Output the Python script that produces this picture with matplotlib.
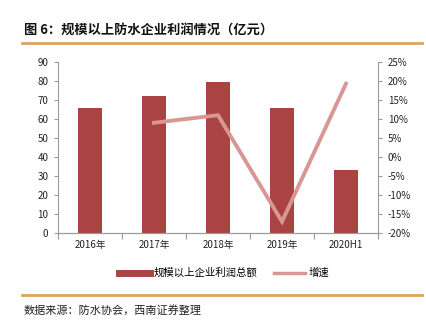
import matplotlib
matplotlib.use("Agg")
import matplotlib.pyplot as plt
from matplotlib.lines import Line2D
from matplotlib.ticker import FuncFormatter, MultipleLocator

plt.rcParams['font.family'] = ['Noto Sans CJK SC', 'DejaVu Sans']

categories = ['2016年', '2017年', '2018年', '2019年', '2020H1']
profit = [66, 72, 79.6, 66, 33]
growth_cats = ['2017年', '2018年', '2019年', '2020H1']
growth = [9.0, 11.0, -17.0, 19.3]

W, H = 427, 327
fig = plt.figure(figsize=(W / 100, H / 100), dpi=100)

bar_color = '#A94442'
line_color = '#D99694'
gold = '#D9A55F'
axis_color = '#9A9A9A'

ax = fig.add_axes([58 / W, 1 - 233 / H, 320 / W, 171 / H])
x = list(range(len(categories)))
ax.bar(x, profit, width=0.39, color=bar_color, zorder=2)
ax.set_xlim(-0.5, len(categories) - 0.5)
ax.set_ylim(0, 90)
ax.yaxis.set_major_locator(MultipleLocator(10))
ax.set_xticks(x)
ax.set_xticklabels(categories)
ax.set_xticks([i + 0.5 for i in range(-1, len(categories))], minor=True)

ax2 = ax.twinx()
gx = [categories.index(c) for c in growth_cats]
ax2.plot(gx, growth, color=line_color, lw=2.8, zorder=3, solid_joinstyle='miter')
ax2.set_ylim(-20, 25)
ax2.yaxis.set_major_locator(MultipleLocator(5))
ax2.yaxis.set_major_formatter(FuncFormatter(lambda v, p: f'{int(round(v))}%'))

for a in (ax, ax2):
    a.spines['top'].set_visible(False)
    a.spines['left'].set_color(axis_color)
    a.spines['right'].set_color(axis_color)
    a.spines['bottom'].set_color(axis_color)
    a.tick_params(axis='both', which='both', labelsize=7, colors='#222222', length=3, width=0.8)
    a.tick_params(axis='both', which='both', color=axis_color)
ax.spines['right'].set_visible(False)
ax2.spines['left'].set_visible(False)
ax.tick_params(axis='x', which='major', length=0, pad=5)
ax.tick_params(axis='x', which='minor', length=4)
ax.tick_params(axis='y', pad=4)
ax2.tick_params(axis='y', pad=4)

handles = [Line2D([0], [0], color=bar_color, lw=5),
           Line2D([0], [0], color=line_color, lw=2.5)]
fig.legend(handles, ['规模以上企业利润总额', '增速'], loc='center',
           bbox_to_anchor=(224 / W, 1 - 273 / H), ncol=2, frameon=False,
           fontsize=7.5, handlelength=3.0, columnspacing=1.6, handletextpad=0.35)

fig.text(24 / W, 1 - 30 / H, '图 6：规模以上防水企业利润情况（亿元）', fontsize=9.5,
         fontweight='bold', va='center', ha='left', color='#111111')
fig.add_artist(Line2D([22 / W, 422 / W], [1 - 42.5 / H, 1 - 42.5 / H], color=gold, lw=2))
fig.add_artist(Line2D([22 / W, 422 / W], [1 - 295 / H, 1 - 295 / H], color=gold, lw=2))
fig.text(24 / W, 1 - 310 / H, '数据来源：防水协会，西南证券整理', fontsize=8,
         style='italic', va='center', ha='left', color='#222222')

fig.savefig('out.png', dpi=100, facecolor='white')
